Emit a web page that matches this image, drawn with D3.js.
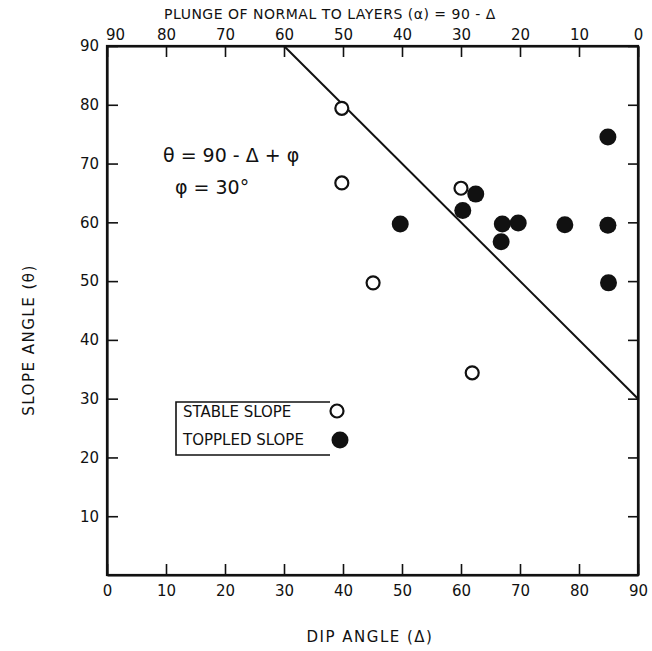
<!DOCTYPE html>
<html><head><meta charset="utf-8">
<script src="https://cdn.jsdelivr.net/npm/d3@7"></script>
<style>
body{margin:0;background:#fff;}
text{font-family:"DejaVu Sans",sans-serif;fill:#111;}
</style></head>
<body><svg id="c" width="652" height="651"></svg>
<script>
const stableDip   = [39.8, 39.8, 45.1, 60.0, 61.9];
const stableSlope = [79.4, 66.7, 49.7, 65.8, 34.4];
const toppledDip   = [49.7, 60.3, 62.5, 67.0, 69.7, 66.8, 77.6, 84.9, 84.9, 85.0];
const toppledSlope = [59.7, 62.0, 64.8, 59.7, 59.9, 56.7, 59.6, 59.5, 74.5, 49.7];
const dipTicks = [0,10,20,30,40,50,60,70,80,90];
const slopeTicks = [10,20,30,40,50,60,70,80,90];
const plungeTicks = [90,80,70,60,50,40,30,20,10,0];
const phi = 30;
const lineDip = [30, 90];

const svg = d3.select("#c");
const L=107,R=638,T=46,B=575;
const x = d3.scaleLinear().domain([0,90]).range([L,R]);
const y = d3.scaleLinear().domain([0,90]).range([B,T]);
const xTop = d3.scaleLinear().domain([90,0]).range([L,R]);

const gB = svg.append("g").attr("transform",`translate(0,${B})`)
  .call(d3.axisBottom(x).tickValues(dipTicks).tickSizeInner(-11).tickSizeOuter(0).tickPadding(16));
const gT = svg.append("g").attr("transform",`translate(0,${T})`)
  .call(d3.axisTop(xTop).tickValues(plungeTicks).tickSizeInner(-11).tickSizeOuter(0).tickPadding(6));
const gL = svg.append("g").attr("transform",`translate(${L},0)`)
  .call(d3.axisLeft(y).tickValues(slopeTicks).tickSizeInner(-11).tickSizeOuter(0).tickPadding(8));
const gR = svg.append("g").attr("transform",`translate(${R},0)`)
  .call(d3.axisRight(y).tickValues(slopeTicks).tickSizeInner(-10).tickSizeOuter(0).tickFormat(""));
[gB,gT,gL,gR].forEach(g=>{
  g.select(".domain").attr("stroke","#111").attr("stroke-width",2.2);
  g.selectAll(".tick line").attr("stroke","#111").attr("stroke-width",1.6);
  g.selectAll(".tick text").style("font-family","DejaVu Sans, sans-serif").style("font-size","15px").attr("fill","#111");
});
gB.selectAll(".tick text").attr("dy","0.35em");
gT.selectAll(".tick text").filter(d=>d===90).attr("dx","8");
svg.append("rect").attr("x",L).attr("y",T).attr("width",R-L).attr("height",B-T)
  .attr("fill","none").attr("stroke","#111").attr("stroke-width",2.2);

// theta = 90 - dip + phi line
svg.append("line")
  .attr("x1",x(lineDip[0])).attr("y1",y(90-lineDip[0]+phi))
  .attr("x2",x(lineDip[1])).attr("y2",y(90-lineDip[1]+phi))
  .attr("stroke","#111").attr("stroke-width",2);

const r=7.5;
svg.append("g").selectAll("circle").data(stableDip.map((d,i)=>[d,stableSlope[i]])).join("circle")
  .attr("cx",d=>x(d[0])).attr("cy",d=>y(d[1])).attr("r",r-1)
  .attr("fill","#fff").attr("stroke","#111").attr("stroke-width",2.2);
svg.append("g").selectAll("circle").data(toppledDip.map((d,i)=>[d,toppledSlope[i]])).join("circle")
  .attr("cx",d=>x(d[0])).attr("cy",d=>y(d[1])).attr("r",r+1).attr("fill","#111");

svg.append("text").attr("x",163).attr("y",162).style("font-size","19px")
  .text("θ = 90 - Δ + φ");
svg.append("text").attr("x",175).attr("y",194).style("font-size","19px")
  .text("φ  =  30°");

svg.append("path").attr("d","M330,402 H176 V455 H330").attr("fill","none").attr("stroke","#111").attr("stroke-width",1.6);
svg.append("text").attr("x",183).attr("y",417).style("font-size","15px").text("STABLE SLOPE");
svg.append("text").attr("x",183).attr("y",445).style("font-size","15px").text("TOPPLED SLOPE");
svg.append("circle").attr("cx",337).attr("cy",411).attr("r",r-1).attr("fill","#fff").attr("stroke","#111").attr("stroke-width",2.2);
svg.append("circle").attr("cx",340).attr("cy",440).attr("r",r+1).attr("fill","#111");

svg.append("text").attr("x",370).attr("y",642).attr("text-anchor","middle").style("font-size","15px")
  .style("letter-spacing","1.5px").text("DIP ANGLE (Δ)");
svg.append("text").attr("transform","translate(34,340) rotate(-90)").attr("text-anchor","middle")
  .style("font-size","15px").style("letter-spacing","1.5px").text("SLOPE ANGLE (θ)");
svg.append("text").attr("x",330).attr("y",19).attr("text-anchor","middle").style("font-size","14px")
  .style("letter-spacing","0.5px").text("PLUNGE OF NORMAL TO LAYERS (α)  =  90 - Δ");
</script></body></html>
